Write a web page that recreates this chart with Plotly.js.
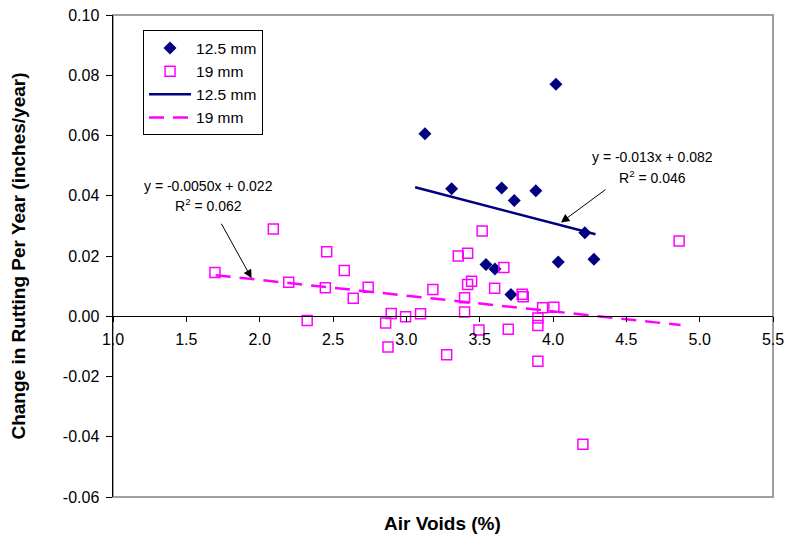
<!DOCTYPE html>
<html>
<head>
<meta charset="utf-8">
<script src="https://cdn.plot.ly/plotly-3.0.1.min.js"></script>
<style>html,body{margin:0;padding:0;background:#fff;}#chart{width:786px;height:538px;}</style>
</head>
<body>
<div id="chart"></div>
<script>
// 12.5 mm data
const x125 = [3.127, 4.020, 3.309, 3.650, 3.736, 3.883, 4.217, 3.543, 3.604, 4.036, 4.279, 3.713];
const y125 = [0.0606, 0.0770, 0.0423, 0.0426, 0.0384, 0.0417, 0.0277, 0.0172, 0.0157, 0.0180, 0.0189, 0.0072];
// 19 mm data
const x19 = [1.695, 2.093, 2.198, 2.457, 2.448, 2.577, 2.638, 2.324, 2.740, 2.859, 2.897, 2.875,
             2.995, 3.097, 3.181, 3.275, 3.517, 3.354, 3.418, 3.665, 3.445, 3.418, 3.602, 3.397,
             3.790, 3.797, 3.397, 3.929, 4.006, 3.897, 3.897, 3.495, 3.695, 3.897, 4.860, 4.204];
const y19 = [0.0145, 0.0290, 0.0113, 0.0214, 0.0095, 0.0152, 0.0060, -0.0014, 0.0096, -0.0022, 0.0009, -0.0102,
             -0.0002, 0.0008, 0.0089, -0.0128, 0.0283, 0.0200, 0.0209, 0.0162, 0.0116, 0.0105, 0.0093, 0.0061,
             0.0073, 0.0065, 0.0014, 0.0028, 0.0030, -0.0006, -0.0031, -0.0046, -0.0043, -0.0149, 0.0250, -0.0425];
// trendline spans (x) and equation labels
const trend125X = [3.06, 4.29];
const trend19X = [1.70, 4.87];
const eq125 = ["y = -0.013x + 0.082", "R<sup>2</sup> = 0.046"];
const eq19 = ["y = -0.0050x + 0.022", "R<sup>2</sup> = 0.062"];
const seriesNames = ["12.5 mm", "19 mm"];
const xTicks = [1.0, 1.5, 2.0, 2.5, 3.0, 3.5, 4.0, 4.5, 5.0, 5.5];
const yTicks = [-0.06, -0.04, -0.02, 0.00, 0.02, 0.04, 0.06, 0.08, 0.10];

function fit(xs, ys) {
  const n = xs.length;
  const mx = xs.reduce((a, b) => a + b, 0) / n;
  const my = ys.reduce((a, b) => a + b, 0) / n;
  let sxy = 0, sxx = 0;
  for (let i = 0; i < n; i++) { sxy += (xs[i] - mx) * (ys[i] - my); sxx += (xs[i] - mx) ** 2; }
  const m = sxy / sxx;
  return {m: m, b: my - m * mx};
}
const f125 = fit(x125, y125);
const f19 = fit(x19, y19);

const NAVY = '#000080', MAG = '#FF00FF';
const traces = [
  {x: x125, y: y125, mode: 'markers', type: 'scatter', name: seriesNames[0],
   marker: {symbol: 'diamond', size: 10, color: NAVY}},
  {x: x19, y: y19, mode: 'markers', type: 'scatter', name: seriesNames[1],
   marker: {symbol: 'square-open', size: 10, color: MAG, line: {width: 1.5, color: MAG}}},
  {x: trend125X, y: trend125X.map(v => f125.m * v + f125.b), mode: 'lines', type: 'scatter', name: seriesNames[0],
   line: {color: NAVY, width: 2.5}},
  {x: trend19X, y: trend19X.map(v => f19.m * v + f19.b), mode: 'lines', type: 'scatter', name: seriesNames[1],
   line: {color: MAG, width: 2.5, dash: '15px,9px'}}
];

const F = 'Arial, "Liberation Sans", sans-serif';
const layout = {
  width: 786, height: 538,
  margin: {l: 113, r: 13, t: 15, b: 41},
  paper_bgcolor: '#fff', plot_bgcolor: '#fff',
  font: {family: F, color: '#000', size: 15},
  showlegend: true,
  legend: {x: 0.0455, y: 0.968, xanchor: 'left', yanchor: 'top', bgcolor: '#fff',
           bordercolor: '#000', borderwidth: 1, font: {size: 15.5, family: F}, tracegroupgap: 0,
           itemwidth: 42},
  xaxis: {range: [1, 5.5], tickvals: xTicks, ticktext: xTicks.map(v => v.toFixed(1)),
          anchor: 'free', position: 0.375, showline: true, linecolor: '#000', linewidth: 1,
          ticks: 'outside', ticklen: 5, tickcolor: '#000', showgrid: false, zeroline: false,
          tickfont: {size: 16, family: F}, ticklabelstandoff: 4, fixedrange: true},
  yaxis: {range: [-0.06, 0.10], tickvals: yTicks, ticktext: yTicks.map(v => v.toFixed(2)),
          showline: true, linecolor: '#000', linewidth: 1.5, ticks: 'outside', ticklen: 6,
          tickcolor: '#000', showgrid: false, zeroline: false, tickfont: {size: 16, family: F},
          ticklabelstandoff: 3,
          title: {text: 'Change in Rutting Per Year (inches/year)', font: {size: 19, family: F, weight: 'bold'}, standoff: 32},
          fixedrange: true},
  shapes: [
    {type: 'rect', xref: 'paper', yref: 'paper', x0: 0, x1: 1, y0: 0, y1: 1,
     line: {color: '#a0a0a0', width: 2}, layer: 'below'}
  ],
  annotations: [
    {xref: 'paper', yref: 'paper', x: 0.4985, y: -0.054, xanchor: 'center', yanchor: 'middle',
     text: '<b>Air Voids (%)</b>', showarrow: false, font: {size: 19, family: F}},
    {x: 1.654, y: 0.04324, text: eq19[0], showarrow: false, font: {size: 14, family: F}, xanchor: 'center', yanchor: 'middle'},
    {x: 1.654, y: 0.03693, text: eq19[1], showarrow: false, font: {size: 14, family: F}, xanchor: 'center', yanchor: 'middle'},
    {x: 4.681, y: 0.05286, text: eq125[0], showarrow: false, font: {size: 14, family: F}, xanchor: 'center', yanchor: 'middle'},
    {x: 4.681, y: 0.04622, text: eq125[1], showarrow: false, font: {size: 14, family: F}, xanchor: 'center', yanchor: 'middle'},
    {x: 1.945, y: 0.0126, text: '', showarrow: true, ax: -31, ay: -56, arrowhead: 2, arrowsize: 1.7,
     arrowwidth: 1, arrowcolor: '#000', standoff: 0, startstandoff: 0},
    {x: 4.054, y: 0.0311, text: '', showarrow: true, ax: 46, ay: -34, arrowhead: 2, arrowsize: 1.7,
     arrowwidth: 1, arrowcolor: '#000', standoff: 0, startstandoff: 0}
  ]
};

Plotly.newPlot('chart', traces, layout, {staticPlot: true, displayModeBar: false});
</script>
</body>
</html>
